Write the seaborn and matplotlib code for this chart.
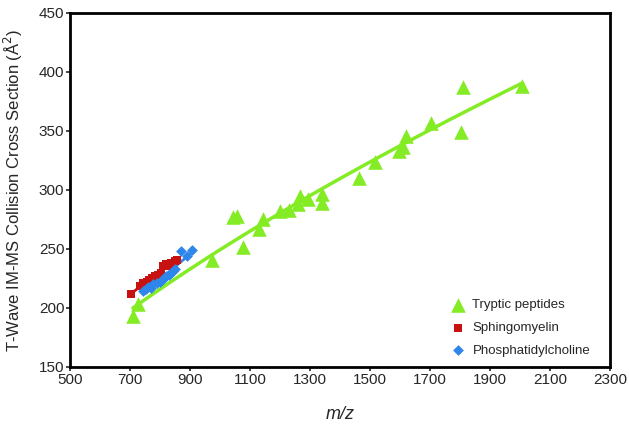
import matplotlib
matplotlib.use("Agg")
import matplotlib.pyplot as plt
import seaborn as sns
import numpy as np
import pandas as pd

# Tryptic peptides
pep_mz = [710, 727, 972, 1044, 1056, 1078, 1131, 1144, 1200, 1231, 1259, 1267,
          1294, 1339, 1341, 1464, 1517, 1598, 1611, 1620, 1702, 1802, 1811, 2005]
pep_ccs = [193, 203, 241, 277, 278, 252, 267, 275, 282, 283, 288, 295,
           292, 297, 289, 310, 324, 333, 336, 346, 357, 349, 387, 388]

# Sphingomyelin
sm_mz = [703, 735, 745, 758, 765, 775, 785, 795, 805, 812, 820, 830, 838, 850, 858]
sm_ccs = [212, 219, 221, 222, 224, 225, 227, 228, 230, 236, 237, 236, 238, 240, 241]

# Phosphatidylcholine
pc_mz = [745, 755, 762, 770, 778, 790, 800, 808, 815, 822, 830, 838, 845, 852, 870, 890, 907]
pc_ccs = [214, 216, 218, 217, 220, 221, 222, 224, 225, 227, 228, 230, 231, 233, 248, 244, 249]

groups = ["Tryptic peptides", "Sphingomyelin", "Phosphatidylcholine"]
df = pd.concat([
    pd.DataFrame({"mz": pep_mz, "ccs": pep_ccs, "cls": groups[0]}),
    pd.DataFrame({"mz": sm_mz, "ccs": sm_ccs, "cls": groups[1]}),
    pd.DataFrame({"mz": pc_mz, "ccs": pc_ccs, "cls": groups[2]}),
])

sns.set_style("white")
plt.rcParams["font.family"] = ["Liberation Sans", "DejaVu Sans"]

colors = {groups[0]: "#84EC24", groups[1]: "#C81212", groups[2]: "#2E86EA"}
markers = {groups[0]: "^", groups[1]: "s", groups[2]: "D"}
sizes = {groups[0]: 110, groups[1]: 40, groups[2]: 30}

fig = plt.figure(figsize=(6.29, 4.25), dpi=100)
ax = fig.add_axes([0.111, 0.1365, 0.859, 0.833])

for name in groups:
    sub = df[df["cls"] == name]
    # power-law trend line (y = a * x^b), like a spreadsheet trendline
    b, ln_a = np.polyfit(np.log(sub["mz"]), np.log(sub["ccs"]), 1)
    xs = np.linspace(sub["mz"].min(), sub["mz"].max(), 100)
    fit = pd.DataFrame({"mz": xs, "ccs": np.exp(ln_a) * xs ** b})
    sns.lineplot(data=fit, x="mz", y="ccs", ax=ax, color=colors[name],
                 lw=2.5 if name == groups[0] else 2, legend=False, zorder=2)
    sns.scatterplot(data=sub, x="mz", y="ccs", ax=ax, color=colors[name],
                    marker=markers[name], s=sizes[name], linewidth=0,
                    label=name, zorder=3)

ax.set_xlim(500, 2300)
ax.set_ylim(150, 450)
ax.set_xticks(range(500, 2301, 200))
ax.set_yticks(range(150, 451, 50))
ax.tick_params(axis="both", labelsize=11, direction="out", length=3, width=1.2,
               bottom=True, left=True, pad=1)
for sp in ax.spines.values():
    sp.set_color("black")
    sp.set_linewidth(2)

ax.set_xlabel("m/z", fontsize=13, style="italic", labelpad=14)
ax.set_ylabel("T-Wave IM-MS Collision Cross Section (Å$^2$)", fontsize=12, labelpad=10)

ax.legend(loc="lower right", bbox_to_anchor=(0.985, -0.005), frameon=False, fontsize=9.5,
          handletextpad=0.1, labelspacing=0.8, markerscale=1.0)

fig.savefig("out.png", dpi=100)
